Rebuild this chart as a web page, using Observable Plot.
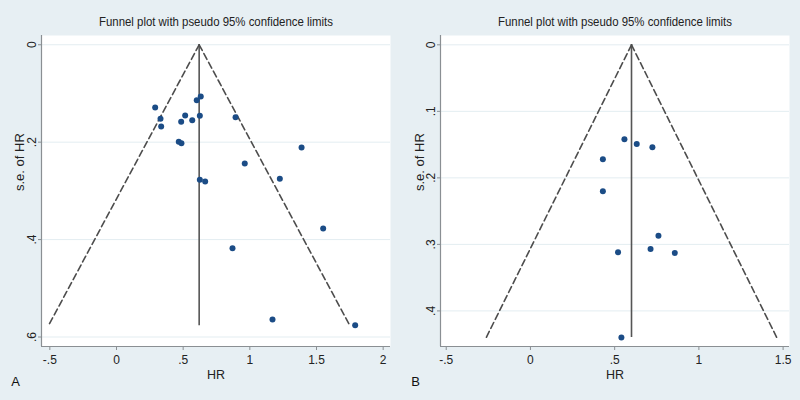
<!DOCTYPE html>
<html>
<head>
<meta charset="utf-8">
<script src="https://cdn.jsdelivr.net/npm/d3@7"></script>
<script src="https://cdn.jsdelivr.net/npm/@observablehq/plot@0.6"></script>
<style>
  html, body { margin: 0; padding: 0; background: #e7eff3; }
  #wrap { position: relative; width: 800px; height: 400px; background: #e7eff3; overflow: hidden; }
  .panel { position: absolute; top: 0; width: 400px; height: 400px; }
  .panel svg { display: block; background: transparent !important; }
</style>
</head>
<body>
<div id="wrap">
  <div class="panel" id="pA" style="left:0px"></div>
  <div class="panel" id="pB" style="left:400px"></div>
</div>
<script>
// ---- Data ----
const titleText = "Funnel plot with pseudo 95% confidence limits";

// Panel A
const hrA = [0.29, 0.33, 0.335, 0.515, 0.485, 0.568, 0.602, 0.632, 0.625, 0.467, 0.487,
             0.893, 1.388, 0.962, 0.625, 0.665, 1.225, 1.55, 0.87, 1.17, 1.79];
const seA = [0.129, 0.152, 0.168, 0.145, 0.158, 0.155, 0.114, 0.106, 0.146, 0.199, 0.202,
             0.149, 0.211, 0.244, 0.277, 0.281, 0.275, 0.377, 0.418, 0.564, 0.576];
const pooledA = 0.62;
const seMaxA = 0.577;
const xTicksA = [-0.5, 0, 0.5, 1, 1.5, 2];
const yTicksA = [0, 0.2, 0.4, 0.6];

// Panel B
const hrB = [0.558, 0.631, 0.724, 0.43, 0.43, 0.76, 0.713, 0.52, 0.857, 0.54];
const seB = [0.142, 0.149, 0.154, 0.172, 0.22, 0.287, 0.307, 0.312, 0.313, 0.44];
const pooledB = 0.60;
const seMaxB = 0.44;
const xTicksB = [-0.5, 0, 0.5, 1, 1.5];
const yTicksB = [0, 0.1, 0.2, 0.3, 0.4];

const fmt = d => d === 0 ? "0" : String(d).replace(/^(-?)0\./, "$1.");

function funnel({hr, se, pooled, seMax, xTicks, yTicks, xDomain, yDomain, marginLeft, marginRight, panelLabel}) {
  const pts = hr.map((h, i) => ({hr: h, se: se[i]}));
  const z = 1.96;
  const left = [{hr: pooled, se: 0}, {hr: pooled - z * seMax, se: seMax}];
  const right = [{hr: pooled, se: 0}, {hr: pooled + z * seMax, se: seMax}];
  const lineColor = "#4d4d4d";
  const axisColor = "#8a8f93";
  const svg = Plot.plot({
    width: 400,
    height: 400,
    marginTop: 35,
    marginBottom: 54,
    marginLeft,
    marginRight,
    style: {background: "transparent", fontFamily: "Liberation Sans, Arial, sans-serif"},
    x: {domain: xDomain},
    y: {domain: yDomain, reverse: true},
    marks: [
      Plot.frame({fill: "white", stroke: null}),
      Plot.gridY(yTicks, {stroke: "#e3edf1", strokeOpacity: 1, strokeWidth: 1}),
      Plot.ruleX([xDomain[0]], {stroke: axisColor, strokeWidth: 1.2}),
      Plot.ruleY([yDomain[1]], {stroke: axisColor, strokeWidth: 1.2}),
      Plot.axisX(xTicks, {tickFormat: fmt, tickSize: 4, tickPadding: 5, stroke: axisColor, fill: "#222", fontSize: 12, label: null}),
      Plot.axisY(yTicks, {tickFormat: fmt, tickSize: 3, tickPadding: 3, tickRotate: -90, stroke: axisColor, fill: "#222", fontSize: 12, label: null}),
      Plot.ruleX([pooled], {y1: 0, y2: seMax, stroke: "#555", strokeWidth: 1.6}),
      Plot.line(left, {x: "hr", y: "se", stroke: lineColor, strokeWidth: 1.6, strokeDasharray: "6.5,3.5"}),
      Plot.line(right, {x: "hr", y: "se", stroke: lineColor, strokeWidth: 1.6, strokeDasharray: "6.5,3.5"}),
      Plot.dot(pts, {x: "hr", y: "se", r: 3, fill: "#1b4c86", stroke: null}),
      Plot.text([titleText], {frameAnchor: "top", dy: -10, fontSize: 13, fill: "#222", lineAnchor: "bottom", className: "ttl"}),
      Plot.text(["HR"], {frameAnchor: "bottom", dy: 32, fontSize: 12.5, fill: "#222"}),
      Plot.text(["s.e. of HR"], {frameAnchor: "left", dx: -marginLeft + 19, rotate: -90, fontSize: 13, fill: "#222"}),
      Plot.text([panelLabel], {frameAnchor: "bottom-left", dx: -marginLeft + 15, dy: 39, fontSize: 13, fill: "#111", textAnchor: "middle"})
    ]
  });
  // condense the title like the reference's narrow font
  svg.querySelectorAll(".ttl text").forEach(t => {
    t.setAttribute("textLength", "234");
    t.setAttribute("lengthAdjust", "spacingAndGlyphs");
  });
  return svg;
}

document.getElementById("pA").appendChild(funnel({
  hr: hrA, se: seA, pooled: pooledA, seMax: seMaxA, xTicks: xTicksA, yTicks: yTicksA,
  xDomain: [-0.5625, 2.055], yDomain: [-0.019, 0.6195], marginLeft: 41, marginRight: 10, panelLabel: "A"
}));
document.getElementById("pB").appendChild(funnel({
  hr: hrB, se: seB, pooled: pooledB, seMax: seMaxB, xTicks: xTicksB, yTicks: yTicksB,
  xDomain: [-0.534, 1.538], yDomain: [-0.014, 0.4535], marginLeft: 40, marginRight: 11, panelLabel: "B"
}));
</script>
</body>
</html>
